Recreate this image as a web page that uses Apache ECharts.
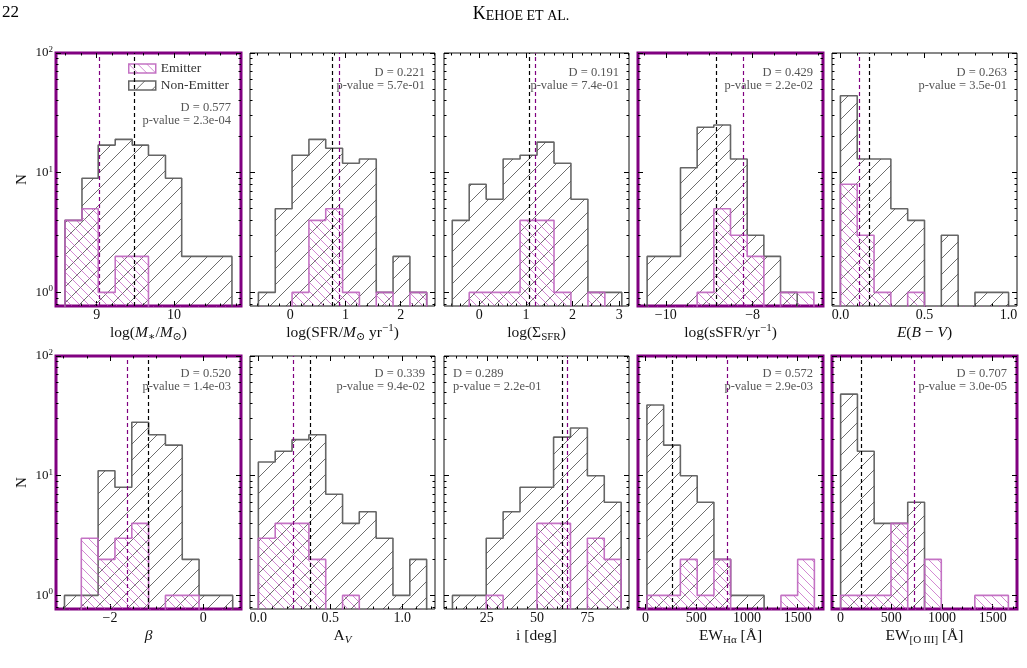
<!DOCTYPE html>
<html>
<head>
<meta charset="utf-8">
<script src="https://cdn.jsdelivr.net/npm/echarts@6/dist/echarts.min.js"></script>
<style>html,body{margin:0;background:#fff}#chart{width:1027px;height:668px}</style>
</head>
<body>
<div id="chart"></div>
<script>
// ---- data (bin edges, counts, medians, KS stats) ----
var massEdges = [8.59, 8.81, 9.02, 9.24, 9.46, 9.67, 9.89, 10.10, 10.32, 10.54, 10.75];
var massNon   = [4, 9, 17, 19, 17, 14, 9, 2, 2, 2];
var massEmit  = [4, 5, 1, 2, 2, 0, 0, 0, 0, 0];
var massMed   = [9.48, 9.03];          // [non-emitter, emitter]
var massStat  = ['0.577', '2.3e-04'];

var sfrEdges = [-0.575, -0.27, 0.034, 0.339, 0.643, 0.948, 1.252, 1.557, 1.861, 2.166, 2.47];
var sfrNon   = [1, 5, 14, 19, 16, 12, 13, 1, 2, 1];
var sfrEmit  = [0, 0, 1, 4, 5, 1, 0, 1, 0, 1];
var sfrMed   = [0.77, 0.88];
var sfrStat  = ['0.221', '5.7e-01'];

var sigEdges = [-0.58, -0.216, 0.147, 0.511, 0.874, 1.238, 1.602, 1.965, 2.329, 2.692, 3.056];
var sigNon   = [4, 8, 6, 13, 14, 18, 12, 6, 1, 1];
var sigEmit  = [0, 1, 1, 1, 4, 4, 1, 0, 1, 0];
var sigMed   = [1.08, 1.21];
var sigStat  = ['0.191', '7.4e-01'];

var ssfrEdges = [-10.43, -10.046, -9.662, -9.278, -8.894, -8.51, -8.126, -7.742, -7.358, -6.974, -6.59];
var ssfrNon   = [2, 2, 11, 24, 25, 13, 3, 2, 1, 0];
var ssfrEmit  = [0, 0, 0, 1, 5, 3, 2, 0, 1, 1];
var ssfrMed   = [-8.84, -8.21];
var ssfrStat  = ['0.429', '2.2e-02'];

var ebvEdges = [0, 0.1, 0.2, 0.3, 0.4, 0.5, 0.6, 0.7, 0.8, 0.9, 1.0];
var ebvNon   = [44, 13, 13, 5, 4, 0, 3, 0, 1, 1];
var ebvEmit  = [8, 3, 1, 0, 1, 0, 0, 0, 0, 0];
var ebvMed   = [0.168, 0.109];
var ebvStat  = ['0.263', '3.5e-01'];

var betaEdges = [-2.978, -2.617, -2.256, -1.895, -1.534, -1.173, -0.812, -0.451, -0.09, 0.271, 0.632];
var betaNon   = [1, 1, 11, 8, 28, 22, 18, 2, 1, 1];
var betaEmit  = [0, 3, 2, 3, 4, 0, 1, 1, 0, 0];
var betaMed   = [-1.19, -1.64];
var betaStat  = ['0.520', '1.4e-03'];

var avEdges = [0, 0.117, 0.234, 0.351, 0.468, 0.585, 0.701, 0.818, 0.935, 1.052, 1.169];
var avNon   = [13, 16, 20, 22, 7, 4, 5, 3, 1, 2];
var avEmit  = [3, 4, 4, 2, 0, 1, 0, 0, 0, 0];
var avMed   = [0.364, 0.243];
var avStat  = ['0.339', '9.4e-02'];

var incEdges = [7.9, 16.3, 24.7, 33.1, 41.5, 49.9, 58.2, 66.6, 75.0, 83.4, 91.8];
var incNon   = [1, 1, 3, 5, 8, 8, 21, 25, 10, 6];
var incEmit  = [0, 0, 1, 0, 0, 4, 4, 0, 3, 2];
var incMed   = [62.5, 65.0];
var incStat  = ['0.289', '2.2e-01'];

var haEdges = [13, 178, 343, 509, 674, 839, 1004, 1169, 1335, 1500, 1665];
var haNon   = [39, 18, 10, 6, 2, 1, 1, 0, 0, 0];
var haEmit  = [1, 1, 2, 1, 2, 0, 0, 0, 1, 2];
var haMed   = [263, 801];
var haStat  = ['0.572', '2.9e-03'];

var o3Edges = [0, 166, 331, 497, 662, 828, 993, 1159, 1324, 1490, 1655];
var o3Non   = [48, 16, 4, 4, 6, 0, 0, 0, 0, 0];
var o3Emit  = [1, 1, 1, 4, 0, 2, 0, 0, 1, 1];
var o3Med   = [204, 730];
var o3Stat  = ['0.707', '3.0e-05'];

var yTicks = [1, 10, 100];
var yMinor = [0.8, 0.9, 2, 3, 4, 5, 6, 7, 8, 9, 20, 30, 40, 50, 60, 70, 80, 90];

// ---- layout / styling ----
var serif = "'Liberation Serif', 'DejaVu Serif', serif";
var PURPLE = '#800080';
var YMIN = 0.77, YMAX = 100, FLOOR = 0.3;
var colLeft = [56, 250, 444, 638, 832];
var rowTop = [53, 356];
var W = 185, H = 253;

function hatch(size, dir, color, width) {
  var c = document.createElement('canvas');
  c.width = c.height = size;
  var g = c.getContext('2d');
  g.strokeStyle = color;
  g.lineWidth = width;
  g.beginPath();
  if (dir === '/') {
    g.moveTo(0, size); g.lineTo(size, 0);
    g.moveTo(-size / 2, size / 2); g.lineTo(size / 2, -size / 2);
    g.moveTo(size / 2, size * 1.5); g.lineTo(size * 1.5, size / 2);
  } else {
    g.moveTo(0, 0); g.lineTo(size, size);
    g.moveTo(-size / 2, size / 2); g.lineTo(size / 2, size * 1.5);
    g.moveTo(size / 2, -size / 2); g.lineTo(size * 1.5, size / 2);
  }
  g.stroke();
  return { image: c, repeat: 'repeat' };
}
var hatchNon = hatch(16, '/', 'rgba(40,40,40,0.85)', 0.8);
var hatchEmit = hatch(9, '\\', 'rgba(185,70,185,0.8)', 0.8);
var nonLine = 'rgba(85,85,85,0.9)';
var emitLine = 'rgba(190,100,190,0.9)';

var fmtSigned = function (v) { return v < 0 ? '\u2212' + (-v) : '' + v; };
var fmtOne = function (v) { return v.toFixed(1); };

var panels = [
  { edges: massEdges, non: massNon, emit: massEmit, med: massMed, stat: massStat, range: [8.474, 10.867], major: [9, 10], minorStep: 0.2, fmt: fmtSigned, purple: true, statY: 108,
    name: 'log({i|M}{sb|\u2217}/{i|M}{sb|\u2299})' },
  { edges: sfrEdges, non: sfrNon, emit: sfrEmit, med: sfrMed, stat: sfrStat, range: [-0.727, 2.62], major: [0, 1, 2], minorStep: 0.2, fmt: fmtSigned,
    name: 'log(SFR/{i|M}{sb|\u2299} yr{sp|\u22121})' },
  { edges: sigEdges, non: sigNon, emit: sigEmit, med: sigMed, stat: sigStat, range: [-0.757, 3.21], major: [0, 1, 2, 3], minorStep: 0.2, fmt: fmtSigned,
    name: 'log(\u03a3{sb|SFR})' },
  { edges: ssfrEdges, non: ssfrNon, emit: ssfrEmit, med: ssfrMed, stat: ssfrStat, range: [-10.64, -6.38], major: [-10, -8], minorStep: 0.5, fmt: fmtSigned, purple: true,
    name: 'log(sSFR/yr{sp|\u22121})' },
  { edges: ebvEdges, non: ebvNon, emit: ebvEmit, med: ebvMed, stat: ebvStat, range: [-0.05, 1.05], major: [0, 0.5, 1], minorStep: 0.1, fmt: fmtOne,
    name: '{i|E}({i|B} \u2212 {i|V})' },
  { edges: betaEdges, non: betaNon, emit: betaEmit, med: betaMed, stat: betaStat, range: [-3.16, 0.81], major: [-2, 0], minorStep: 0.5, fmt: fmtSigned, purple: true,
    name: '{i|\u03b2}' },
  { edges: avEdges, non: avNon, emit: avEmit, med: avMed, stat: avStat, range: [-0.058, 1.227], major: [0, 0.5, 1], minorStep: 0.1, fmt: fmtOne,
    name: 'A{sbi|V}' },
  { edges: incEdges, non: incNon, emit: incEmit, med: incMed, stat: incStat, range: [3.7, 95.7], major: [25, 50, 75], minorStep: 5, fmt: fmtSigned, statLeft: true,
    name: 'i [deg]' },
  { edges: haEdges, non: haNon, emit: haEmit, med: haMed, stat: haStat, range: [-75, 1750], major: [0, 500, 1000, 1500], minorStep: 100, fmt: fmtSigned, purple: true,
    name: 'EW{sb|H\u03b1} [\u00c5]' },
  { edges: o3Edges, non: o3Non, emit: o3Emit, med: o3Med, stat: o3Stat, range: [-85, 1740], major: [0, 500, 1000, 1500], minorStep: 100, fmt: fmtSigned, purple: true,
    name: 'EW{sb|[O\u2009III]} [\u00c5]' }
];

var nameRich = {
  i: { fontFamily: serif, fontSize: 15.5, fontStyle: 'italic', lineHeight: 20 },
  sb: { fontFamily: serif, fontSize: 11, verticalAlign: 'bottom', lineHeight: 11 },
  sbi: { fontFamily: serif, fontSize: 11, fontStyle: 'italic', verticalAlign: 'bottom', lineHeight: 11 },
  sp: { fontFamily: serif, fontSize: 11, verticalAlign: 'top', lineHeight: 11 }
};

function stepPoints(edges, counts) {
  var pts = [[edges[0], FLOOR]];
  counts.forEach(function (c, k) {
    var y = c > 0 ? c : FLOOR;
    pts.push([edges[k], y], [edges[k + 1], y]);
  });
  pts.push([edges[edges.length - 1], FLOOR]);
  return pts;
}

var grids = [], xAxes = [], yAxes = [], series = [], graphics = [];

panels.forEach(function (p, i) {
  var col = i % 5, row = Math.floor(i / 5);
  grids.push({
    left: colLeft[col], top: rowTop[row], width: W, height: H, show: true,
    borderColor: p.purple ? PURPLE : '#111', borderWidth: p.purple ? 3 : 1,
    backgroundColor: 'transparent'
  });

  var minors = [];
  var start = Math.ceil(p.range[0] / p.minorStep - 1e-9);
  for (var k = start; k * p.minorStep <= p.range[1]; k++) {
    var v = Math.round(k * p.minorStep * 1000) / 1000;
    if (p.major.indexOf(v) < 0) minors.push(v);
  }

  ['bottom', 'top'].forEach(function (pos) {
    [[p.major, 5], [minors, 2.5]].forEach(function (t, j) {
      var withLabel = pos === 'bottom' && j === 0;
      xAxes.push({
        type: 'value', gridIndex: i, position: pos, min: p.range[0], max: p.range[1],
        axisLine: { show: false, onZero: false }, splitLine: { show: false },
        axisTick: { show: true, inside: true, length: t[1], customValues: t[0], lineStyle: { color: '#000', width: 1 } },
        axisLabel: { show: withLabel, customValues: t[0], margin: 2, fontFamily: serif, fontSize: 14, lineHeight: 14, color: '#111', formatter: p.fmt },
        name: withLabel ? p.name : '', nameLocation: 'middle', nameGap: 13,
        nameTextStyle: { fontFamily: serif, fontSize: 15.5, color: '#111', lineHeight: 20, rich: nameRich }
      });
    });
  });

  ['left', 'right'].forEach(function (pos) {
    [[yTicks, 5], [yMinor, 2.5]].forEach(function (t, j) {
      var withLabel = pos === 'left' && j === 0 && col === 0;
      yAxes.push({
        type: 'log', logBase: 10, gridIndex: i, position: pos, min: YMIN, max: YMAX,
        axisLine: { show: false, onZero: false }, splitLine: { show: false },
        axisTick: { show: true, inside: true, length: t[1], customValues: t[0], lineStyle: { color: '#000', width: 1 } },
        axisLabel: {
          show: withLabel, customValues: t[0], margin: 3,
          formatter: function (v) { return '{b|10}{s|' + Math.round(Math.log10(v)) + '}'; },
          rich: {
            b: { fontFamily: serif, fontSize: 13, color: '#111', lineHeight: 16 },
            s: { fontFamily: serif, fontSize: 9, color: '#111', verticalAlign: 'top', lineHeight: 8 }
          }
        },
        name: withLabel ? 'N' : '', nameLocation: 'middle', nameGap: 26,
        nameTextStyle: { fontFamily: serif, fontSize: 15, color: '#111' }
      });
    });
  });

  series.push({
    type: 'line', name: 'Non-Emitter', xAxisIndex: 4 * i, yAxisIndex: 4 * i,
    data: stepPoints(p.edges, p.non), symbol: 'none', clip: true, z: 2,
    lineStyle: { color: nonLine, width: 1.6 },
    itemStyle: { color: nonLine },
    areaStyle: { color: hatchNon, origin: 'start', opacity: 1 },
    markLine: {
      silent: true, symbol: ['none', 'none'], label: { show: false },
      lineStyle: { color: '#000', type: [4, 3], width: 1.2 },
      data: [{ xAxis: p.med[0] }]
    }
  });
  series.push({
    type: 'line', name: 'Emitter', xAxisIndex: 4 * i, yAxisIndex: 4 * i,
    data: stepPoints(p.edges, p.emit), symbol: 'none', clip: true, z: 3,
    lineStyle: { color: emitLine, width: 1.6 },
    itemStyle: { color: emitLine },
    areaStyle: { color: hatchEmit, origin: 'start', opacity: 1 },
    markLine: {
      silent: true, symbol: ['none', 'none'], label: { show: false },
      lineStyle: { color: PURPLE, type: [4, 3], width: 1.2 },
      data: [{ xAxis: p.med[1] }]
    }
  });

  var sy = p.statY || (row === 0 ? 73 : 374);
  var sx = p.statLeft ? colLeft[col] + 9 : colLeft[col] + W - 10;
  var al = p.statLeft ? 'left' : 'right';
  ['D = ' + p.stat[0], 'p-value = ' + p.stat[1]].forEach(function (txt, j) {
    graphics.push({
      type: 'text', x: sx, y: sy + j * 12.5, z: 10, silent: true,
      style: { text: txt, font: "12.5px 'Liberation Serif', serif", fill: '#555',
               align: al, textAlign: al, verticalAlign: 'middle', textVerticalAlign: 'middle' }
    });
  });
});

graphics.push({
  type: 'text', x: 2, y: 13, silent: true,
  style: { text: '22', font: "17px 'Liberation Serif', serif", fill: '#000', verticalAlign: 'middle', textVerticalAlign: 'middle' }
});
graphics.push({
  type: 'text', x: 521, y: 13, silent: true,
  style: {
    text: '{a|K}{b|EHOE ET AL.}', align: 'center', textAlign: 'center', verticalAlign: 'middle', textVerticalAlign: 'middle',
    rich: {
      a: { fontFamily: serif, fontSize: 18, fill: '#000', color: '#000', lineHeight: 20, verticalAlign: 'bottom' },
      b: { fontFamily: serif, fontSize: 14, fill: '#000', color: '#000', lineHeight: 16, verticalAlign: 'bottom' }
    }
  }
});

var chart = echarts.init(document.getElementById('chart'));
chart.setOption({
  animation: false,
  backgroundColor: '#fff',
  grid: grids,
  xAxis: xAxes,
  yAxis: yAxes,
  series: series,
  graphic: graphics,
  legend: {
    left: 128, top: 61, orient: 'vertical', padding: 0, itemGap: 2,
    itemWidth: 27, itemHeight: 9, selectedMode: false,
    textStyle: { fontFamily: serif, fontSize: 13.5, color: '#333', lineHeight: 15 },
    data: [
      { name: 'Emitter', icon: 'rect', itemStyle: { color: hatchEmit, borderColor: emitLine, borderWidth: 1.5 } },
      { name: 'Non-Emitter', icon: 'rect', itemStyle: { color: hatchNon, borderColor: nonLine, borderWidth: 1.5 } }
    ]
  }
});
</script>
</body>
</html>
